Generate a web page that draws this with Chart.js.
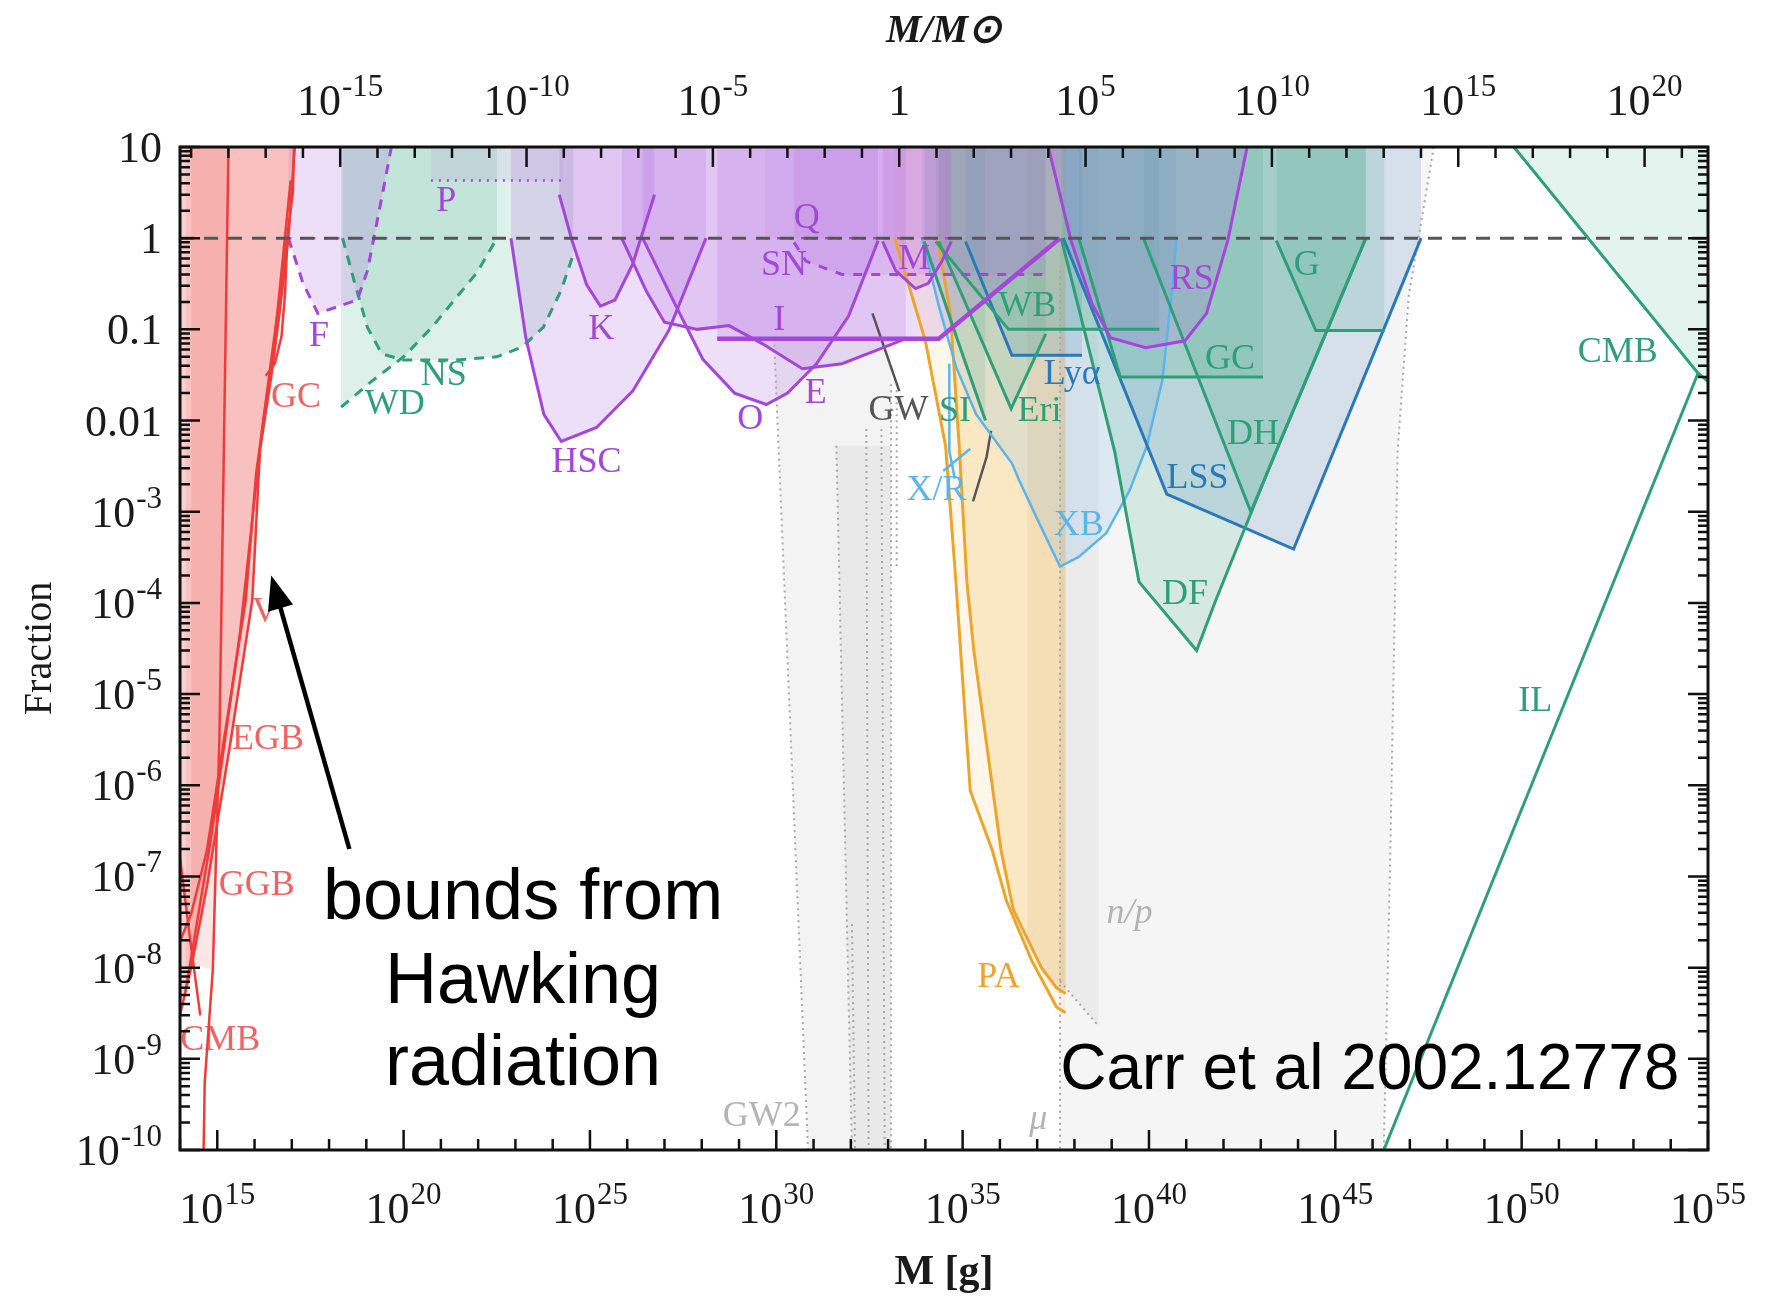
<!DOCTYPE html>
<html>
<head>
<meta charset="utf-8">
<script src="https://cdn.jsdelivr.net/npm/chart.js@4.4.1/dist/chart.umd.min.js"></script>
<style>
  html, body { margin: 0; padding: 0; background: #fff; }
  #wrap { width: 1767px; height: 1298px; }
</style>
</head>
<body>
<div id="wrap"><canvas id="pbhChart" width="1767" height="1298"></canvas></div>
<script>
const MSUN_G = 1.989e33;
const X_MIN = 1e14, X_MAX = 1e55, Y_MIN = 1e-10, Y_MAX = 10;

// axis ticks, labels as [base, exponent]
const massTicks = [1e15, 1e20, 1e25, 1e30, 1e35, 1e40, 1e45, 1e50, 1e55];
const massTickLabels = [['10', '15'], ['10', '20'], ['10', '25'], ['10', '30'], ['10', '35'], ['10', '40'], ['10', '45'], ['10', '50'], ['10', '55']];
const solarTicks = [1e-15, 1e-10, 1e-5, 1, 1e5, 1e10, 1e15, 1e20];
const solarTickLabels = [['10', '-15'], ['10', '-10'], ['10', '-5'], ['1', ''], ['10', '5'], ['10', '10'], ['10', '15'], ['10', '20']];
const fracTicks = [1e-10, 1e-9, 1e-8, 1e-7, 1e-6, 1e-5, 1e-4, 1e-3, 0.01, 0.1, 1, 10];
const fracTickLabels = [['10', '-10'], ['10', '-9'], ['10', '-8'], ['10', '-7'], ['10', '-6'], ['10', '-5'], ['10', '-4'], ['10', '-3'], ['0.01', ''], ['0.1', ''], ['1', ''], ['10', '']];

// constraint curves, [M in g, fraction]
const unity = [[1e14, 1], [1e55, 1]];

// evaporation
const hawkingEGB = [[1.2e17, 10], [8.1e16, 1], [4.6e16, 0.14], [2.8e16, 0.030], [1.4e16, 4.7e-3], [8.7e15, 1.07e-4], [2.3e15, 3.1e-6], [7.6e14, 1.95e-7], [5.3e14, 7.9e-8], [2.1e14, 1.1e-8], [1e14, 3.0e-9]];
const hawkingV = [[9.3e16, 4.3], [3.5e16, 0.079], [1.1e16, 2.6e-3], [5.8e15, 1.07e-4], [1.5e15, 3.1e-6], [5.3e14, 1.95e-7], [2.0e14, 3.9e-8], [1e14, 1.95e-8]];
const hawkingGGB = [[1.4e14, 5.4e-9], [7.1e14, 2.9e-7], [4.1e15, 4.8e-5], [1.6e16, 8.1e-3], [5.3e16, 0.33], [1.07e17, 3.2], [1.15e17, 10]];
const hawkingCMB = [[1e14, 1.6e-7], [2.0e14, 1.66e-8], [3.5e14, 3.0e-9]];
const hawkingNow = [[2.0e15, 10], [1.5e15, 4.6e-3], [1.15e15, 3.7e-6], [7.6e14, 9.5e-9], [4.6e14, 5.5e-10], [4.3e14, 1e-10]];
const hawkingGC = [[7.6e16, 1], [6.6e16, 0.25], [5.3e16, 0.084], [3.5e16, 0.042], [2.0e16, 0.031]];

// lensing
const femto = [[8.1e16, 1], [2.0e17, 0.32], [5.0e17, 0.15], [1.9e18, 0.18], [5.7e18, 0.21], [1.07e19, 0.44], [2.6e19, 2.8], [4.7e19, 10]];
const femtoUnity = [[8.1e16, 1], [2.0e20, 1]];
const pulsar = [[5.4e20, 4.3], [1.9e24, 4.3]];
const hsc = [[7.6e22, 1], [1.9e23, 0.081], [5.8e23, 0.0117], [1.7e24, 5.9e-3], [1.5e25, 8.4e-3], [1.4e26, 0.021], [1.3e27, 0.097], [1.3e28, 1]];
const kepler = [[1.5e24, 3.0], [3.3e24, 0.94], [8.1e24, 0.31], [1.9e25, 0.18], [4.7e25, 0.21], [1.4e26, 0.52], [5.4e26, 3.0]];
const eros = [[7.1e25, 1], [3.3e26, 0.26], [1.0e27, 0.12], [7.6e27, 0.10], [5.4e28, 0.11], [4.4e29, 0.069], [5.0e30, 0.037], [5.8e31, 0.042], [5.4e32, 0.060], [3.0e33, 0.079]];
const ogle = [[2.6e26, 1], [1.9e27, 0.19], [1.07e28, 0.047], [7.6e28, 0.020], [5.4e29, 0.015], [2.0e30, 0.020], [1.2e31, 0.042], [8.7e31, 0.14], [5.4e32, 0.94]];
const icarus = [[2.6e28, 0.079], [2.3e34, 0.079], [4.1e37, 1]];
const supernova = [[3.0e30, 0.9], [6.2e30, 0.56], [5.8e31, 0.40], [1.7e37, 0.40]];
const macho = [[7.1e32, 0.92], [1.6e33, 0.44], [5.4e33, 0.28], [1.2e34, 0.32], [2.8e34, 0.56], [5.0e34, 0.92]];
const quasar = [[5e29, 1], [5e34, 1]];
const radio = [[2.0e37, 10], [8.1e37, 0.94], [3.0e38, 0.19], [9.3e38, 0.081], [8.1e39, 0.063], [9.3e40, 0.075], [3.5e41, 0.15], [1.3e42, 0.94], [4.3e42, 10]];

// dynamical / accretion
const whiteDwarf = [[2.1e18, 0.014], [1.4e19, 0.027], [1.0e20, 0.050], [5.7e20, 0.105], [2.3e21, 0.21], [9.3e21, 0.42], [3.2e22, 1]];
const neutronStar = [[2.3e18, 1], [4.7e18, 0.34], [1.07e19, 0.105], [2.6e19, 0.054], [1.0e20, 0.046], [2.2e21, 0.046], [3.2e22, 0.050], [1.5e23, 0.064], [5.6e23, 0.105], [1.7e24, 0.27], [3.6e24, 0.67]];
const starClusters = [[9.3e33, 0.92], [7.1e34, 0.079], [4.1e35, 0.010]];
const wideBinaries = [[1.9e34, 0.92], [1.7e36, 0.10], [1.9e40, 0.10]];
const eridanus = [[2.3e34, 0.92], [2.0e36, 0.0135], [1.7e37, 0.089]];
const dynFriction = [[4.4e37, 1], [1.2e39, 4.6e-3], [5.4e39, 1.7e-4], [1.9e41, 3.0e-5], [6.2e41, 1.07e-4], [2.6e43, 4.7e-3], [6.6e45, 1]];
const diskHeating = [[7.1e39, 1], [5.4e42, 1.0e-3], [6.6e45, 1]];
const galacticCenter = [[1.3e38, 1], [1.7e39, 0.030], [1.15e43, 0.030]];
const galaxies = [[2.6e43, 0.94], [3.0e44, 0.097], [2.1e46, 0.097]];
const cmbDipole = [[6.2e49, 10], [5.4e54, 0.033], [1e55, 0.027]];
const incredulity = [[5.4e54, 0.033], [2.0e46, 1e-10]];
const lymanAlpha = [[1.2e35, 0.92], [2.1e36, 0.052], [1.6e38, 0.052]];
const largeScale = [[5.0e37, 1], [3.0e40, 1.56e-3], [7.6e43, 3.9e-4], [2.0e47, 1]];
const xrayBinaries = [[8.1e33, 1], [2.3e34, 0.18], [6.6e34, 0.039], [2.3e35, 0.0117], [2.1e36, 3.4e-3], [3.3e36, 2.2e-3], [1.15e37, 7.4e-4], [4.1e37, 2.5e-4], [1.3e38, 3.2e-4], [7.1e38, 5.8e-4], [3.0e39, 1.7e-3], [8.7e39, 5.2e-3], [2.3e40, 0.028], [4.4e40, 0.34], [5.4e40, 1]];
const xrayRadioA = [[4.4e34, 0.042], [4.4e34, 4.6e-3], [6.2e34, 2.3e-3]];
const xrayRadioB = [[3.0e34, 2.8e-3], [1.6e35, 4.9e-3]];
const planckA = [[1.5e33, 1], [1.0e34, 0.075], [3.5e34, 5.2e-3], [6.6e34, 1.7e-4], [1.6e35, 8.7e-7], [6.2e35, 1.95e-7], [1.5e36, 5.4e-8], [7.1e36, 1.2e-8], [3.3e37, 3.7e-9], [5.8e37, 3.2e-9]];
const planckB = [[2.1e34, 1], [4.7e34, 0.15], [8.1e34, 5.2e-3], [1.3e35, 1.7e-4], [2.0e35, 3.0e-5], [1.07e36, 1.95e-7], [2.3e36, 4.3e-8], [1.3e37, 1.0e-8], [3.3e37, 6.0e-9], [5.8e37, 5.2e-9]];
const planckBand = [[5.4e36, 10], [5.8e37, 10], [5.8e37, 5.2e-9], [3.3e37, 6.0e-9], [1.3e37, 1.0e-8], [5.4e36, 1.86e-8]];

// gravitational waves and early-universe bounds
const gwLine = [[3.8e32, 0.15], [2.0e33, 0.021]];
const gwLineB = [[5.8e35, 7.7e-3], [4.4e35, 4.0e-3], [1.9e35, 1.3e-3]];
const gw2Band = [[8.7e29, 0.079], [7.1e30, 1e-10], [1.2e33, 1e-10], [1.2e33, 0.079]];
const gw2Inner = [[4.1e31, 5.3e-3], [1.07e32, 1e-10], [1.2e33, 1e-10], [1.2e33, 5.3e-3]];
const gwDotted = [
  [[8.7e29, 0.079], [7.1e30, 1e-10]],
  [[4.1e31, 5.3e-3], [1.07e32, 1e-10]],
  [[2.6e32, 8.1e-3], [3.0e32, 1e-10]],
  [[6.6e32, 8.1e-3], [8.1e32, 1e-10]],
  [[1.2e33, 0.025], [1.2e33, 1e-10]],
  [[1.7e33, 0.025], [1.7e33, 2.3e-4]],
  [[1.07e32, 3e-8], [1.3e32, 1e-10]]
];
const bbnBand = [[4.1e37, 10], [4.4e47, 10], [9.3e46, 0.23], [4.7e46, 4.6e-3], [3.0e46, 1.95e-7], [2.0e46, 1e-10], [4.1e37, 1e-10]];
const bbnEdge = [[4.4e47, 10], [9.3e46, 0.23], [4.7e46, 4.6e-3], [3.0e46, 1.95e-7], [2.0e46, 1e-10]];
const muLine = [[4.1e37, 0.44], [4.1e37, 1e-10]];
const npBand = [[4.1e37, 10], [4.4e38, 10], [4.4e38, 2.3e-9], [4.1e37, 7.1e-9]];
const npLine = [[4.1e37, 7.1e-9], [4.4e38, 2.3e-9]];

const RED = '#ec3d3a', PURPLE = '#a447d8', GREEN = '#2f9f78', BLUE = '#2b79b8';
const SKY = '#5cb5e8', ORANGE = '#eca52b', DARK = '#555555', LIGHT_GRAY = '#b4b4b4';
const RED_TEXT = 'rgba(236,60,60,0.8)';
const PURPLE_FILL = 'rgba(168,96,222,0.2)';
const GREEN_FILL = 'rgba(60,168,128,0.17)';
const BLUE_FILL = 'rgba(50,120,185,0.16)';

const curveLabels = [
  { text: 'P', at: [1.4e21, 2.55], color: PURPLE },
  { text: 'F', at: [5.4e17, 0.084], color: PURPLE },
  { text: 'GC', at: [1.3e17, 0.018], color: RED_TEXT },
  { text: 'WD', at: [5.8e19, 0.015], color: GREEN },
  { text: 'NS', at: [1.2e21, 0.031], color: GREEN },
  { text: 'K', at: [2.0e25, 0.10], color: PURPLE },
  { text: 'HSC', at: [8.1e24, 3.5e-3], color: PURPLE },
  { text: 'Q', at: [6.6e30, 1.66], color: PURPLE },
  { text: 'SN', at: [1.6e30, 0.50], color: PURPLE },
  { text: 'I', at: [1.2e30, 0.125], color: PURPLE },
  { text: 'M', at: [5.0e33, 0.58], color: PURPLE },
  { text: 'O', at: [2.0e29, 0.0102], color: PURPLE },
  { text: 'E', at: [1.15e31, 0.020], color: PURPLE },
  { text: 'GW', at: [1.9e33, 0.0129], color: DARK },
  { text: 'SI', at: [6.2e34, 0.0125], color: GREEN },
  { text: 'WB', at: [5.4e36, 0.18], color: GREEN },
  { text: 'Lyα', at: [8.7e37, 0.032], color: BLUE },
  { text: 'Eri', at: [1.15e37, 0.0125], color: GREEN },
  { text: 'RS', at: [1.4e41, 0.35], color: PURPLE },
  { text: 'GC', at: [1.5e42, 0.047], color: GREEN },
  { text: 'G', at: [1.7e44, 0.50], color: GREEN },
  { text: 'DH', at: [6.2e42, 7.0e-3], color: GREEN },
  { text: 'LSS', at: [2.0e41, 2.3e-3], color: BLUE },
  { text: 'XB', at: [1.3e38, 7.0e-4], color: SKY },
  { text: 'X/R', at: [2.0e34, 1.7e-3], color: SKY },
  { text: 'DF', at: [9.3e40, 1.24e-4], color: GREEN },
  { text: 'CMB', at: [3.8e52, 0.056], color: GREEN },
  { text: 'IL', at: [2.3e50, 8.3e-6], color: GREEN },
  { text: 'PA', at: [9.3e35, 7.8e-9], color: ORANGE },
  { text: 'n/p', at: [3.0e39, 3.9e-8], color: LIGHT_GRAY, italic: true },
  { text: 'μ', at: [1.07e37, 2.15e-10], color: LIGHT_GRAY, italic: true },
  { text: 'GW2', at: [4.1e29, 2.3e-10], color: LIGHT_GRAY },
  { text: 'V', at: [1.9e16, 7.9e-5], color: RED_TEXT },
  { text: 'EGB', at: [2.3e16, 3.2e-6], color: RED_TEXT },
  { text: 'GGB', at: [1.15e16, 8.0e-8], color: RED_TEXT },
  { text: 'CMB', at: [1.2e15, 1.6e-9], color: RED_TEXT }
];

const hawkingNote = { lines: ['bounds from', 'Hawking', 'radiation'], x: 1.6e23, y: [5.7e-8, 6.8e-9, 8.5e-10] };
const sourceNote = { text: 'Carr et al 2002.12778', x: 1.7e54, y: 7.3e-10 };
const arrowFrom = [3.5e18, 2.0e-7], arrowTo = [2.8e16, 2.0e-4];

function pts(arr) {
  return arr.map(([x, y]) => ({ x, y }));
}

function curve(data, color, opts = {}) {
  return {
    data: pts(data),
    borderColor: color,
    borderWidth: opts.width || 3,
    borderDash: opts.dash || [],
    backgroundColor: opts.fill || 'rgba(0,0,0,0)',
    fill: opts.fill ? 'end' : false,
    pointRadius: 0,
    tension: 0
  };
}

function area(data, color) {
  return {
    data: pts(data),
    borderColor: 'rgba(0,0,0,0)',
    borderWidth: 1,
    backgroundColor: color,
    fill: 'shape',
    pointRadius: 0,
    tension: 0
  };
}

const dotted = { width: 2, dash: [2, 4] };
const datasets = [
  curve(unity, DARK, { width: 3, dash: [14, 10] }),

  curve(hawkingEGB, RED, { width: 2.5 }),
  curve(hawkingV, RED, { width: 2.5 }),
  curve(hawkingGGB, RED, { width: 2.5, fill: 'rgba(236,70,66,0.12)' }),
  curve(hawkingCMB, RED, { width: 2.5 }),
  curve(hawkingNow, RED, { width: 2.5 }),
  curve(hawkingGC, RED, { width: 2.5 }),

  curve(femto, PURPLE, { dash: [10, 8], fill: PURPLE_FILL }),
  curve(femtoUnity, PURPLE, { width: 2.5, dash: [3, 9] }),
  curve(pulsar, PURPLE, { width: 2.5, dash: [2, 6], fill: 'rgba(168,96,222,0.1)' }),
  curve(hsc, PURPLE, { fill: PURPLE_FILL }),
  curve(kepler, PURPLE, { fill: PURPLE_FILL }),
  curve(eros, PURPLE, { fill: PURPLE_FILL }),
  curve(ogle, PURPLE, { fill: PURPLE_FILL }),
  curve(icarus, PURPLE, { width: 4.5, fill: PURPLE_FILL }),
  curve(supernova, PURPLE, { dash: [9, 9], fill: 'rgba(168,96,222,0.14)' }),
  curve(macho, PURPLE, { fill: 'rgba(215,100,200,0.22)' }),
  curve(quasar, PURPLE, { width: 2.5, dash: [3, 9], fill: 'rgba(168,96,222,0.1)' }),
  curve(radio, PURPLE, { fill: PURPLE_FILL }),

  curve(whiteDwarf, GREEN, { dash: [10, 8], fill: GREEN_FILL }),
  curve(neutronStar, GREEN, { dash: [10, 8], fill: GREEN_FILL }),
  curve(starClusters, GREEN, { fill: GREEN_FILL }),
  curve(wideBinaries, GREEN, { fill: GREEN_FILL }),
  curve(eridanus, GREEN, { fill: GREEN_FILL }),
  curve(dynFriction, GREEN, { fill: GREEN_FILL }),
  curve(diskHeating, GREEN, { fill: GREEN_FILL }),
  curve(galacticCenter, GREEN, { fill: GREEN_FILL }),
  curve(galaxies, GREEN, { fill: GREEN_FILL }),
  curve(cmbDipole, GREEN, { fill: 'rgba(60,168,128,0.14)' }),
  curve(incredulity, GREEN),

  curve(lymanAlpha, BLUE, { fill: BLUE_FILL }),
  curve(largeScale, BLUE, { fill: BLUE_FILL }),
  curve(xrayBinaries, SKY, { width: 2.5, fill: 'rgba(100,175,230,0.16)' }),
  curve(xrayRadioA, SKY, { width: 2.5 }),
  curve(xrayRadioB, SKY, { width: 2.5 }),

  curve(planckA, ORANGE, { fill: 'rgba(240,180,70,0.12)' }),
  curve(planckB, ORANGE, { fill: 'rgba(240,180,70,0.22)' }),

  curve(gwLine, DARK, { width: 2.5 }),
  curve(gwLineB, DARK, { width: 2.5 }),
  ...gwDotted.map(seg => curve(seg, '#a8a8a8', dotted)),
  curve(bbnEdge, '#a8a8a8', dotted),
  curve(muLine, '#a8a8a8', dotted),
  curve(npLine, '#a8a8a8', dotted),

  area([[1e14, 10], ...hawkingEGB], 'rgba(236,70,66,0.25)'),
  area([[2.0e14, 10], [2.0e15, 10], [1.5e15, 4.6e-3], [1.15e15, 3.7e-6], [7.6e14, 9.5e-9], [2.0e14, 1.1e-8]], 'rgba(230,80,80,0.14)'),
  area(planckBand, 'rgba(190,150,90,0.14)'),
  area(gw2Band, 'rgba(190,190,190,0.18)'),
  area(gw2Inner, 'rgba(180,180,180,0.16)'),
  area(npBand, 'rgba(170,170,170,0.14)'),
  area(bbnBand, 'rgba(170,170,170,0.12)')
];

const SERIF = '"Liberation Serif", "Times New Roman", serif';
const SANS = '"Liberation Sans", Arial, sans-serif';
const BASE_FONT = '44px ' + SERIF;
const EXP_FONT = '31px ' + SERIF;

// "10" with a raised exponent; y is the baseline of the base text
function drawPower(ctx, label, x, y, align) {
  const [base, exp] = label;
  ctx.font = BASE_FONT;
  const wb = ctx.measureText(base).width;
  ctx.font = EXP_FONT;
  const we = exp ? ctx.measureText(exp).width : 0;
  const total = wb + we + (exp ? 1 : 0);
  const left = align === 'center' ? x - total / 2 : align === 'right' ? x - total : x;
  ctx.textAlign = 'left';
  ctx.textBaseline = 'alphabetic';
  ctx.font = BASE_FONT;
  ctx.fillText(base, left, y);
  if (exp) {
    ctx.font = EXP_FONT;
    ctx.fillText(exp, left + wb + 1, y - 19);
  }
}

const decorations = {
  id: 'decorations',
  afterDatasetsDraw(chart) {
    const { ctx, scales } = chart;
    const px = v => scales.x.getPixelForValue(v);
    const py = v => scales.y.getPixelForValue(v);
    ctx.save();
    ctx.textAlign = 'center';
    ctx.textBaseline = 'middle';
    curveLabels.forEach(l => {
      ctx.font = (l.italic ? 'italic ' : '') + '36px ' + SERIF;
      ctx.fillStyle = l.color;
      ctx.fillText(l.text, px(l.at[0]), py(l.at[1]));
    });

    ctx.fillStyle = '#000';
    ctx.font = '72px ' + SANS;
    hawkingNote.lines.forEach((t, i) => ctx.fillText(t, px(hawkingNote.x), py(hawkingNote.y[i])));
    ctx.font = '64px ' + SANS;
    ctx.textAlign = 'right';
    ctx.fillText(sourceNote.text, px(sourceNote.x), py(sourceNote.y));

    // arrow towards the evaporation bounds
    const sx = px(arrowFrom[0]), sy = py(arrowFrom[1]);
    const tx = px(arrowTo[0]), ty = py(arrowTo[1]);
    const ang = Math.atan2(ty - sy, tx - sx);
    const headLen = 34, headW = 13;
    ctx.strokeStyle = '#000';
    ctx.lineWidth = 4.5;
    ctx.beginPath();
    ctx.moveTo(sx, sy);
    ctx.lineTo(tx - Math.cos(ang) * headLen * 0.8, ty - Math.sin(ang) * headLen * 0.8);
    ctx.stroke();
    ctx.beginPath();
    ctx.moveTo(tx, ty);
    ctx.lineTo(tx - headLen * Math.cos(ang) + headW * Math.sin(ang), ty - headLen * Math.sin(ang) - headW * Math.cos(ang));
    ctx.lineTo(tx - headLen * Math.cos(ang) - headW * Math.sin(ang), ty - headLen * Math.sin(ang) + headW * Math.cos(ang));
    ctx.closePath();
    ctx.fill();
    ctx.restore();
  },
  afterDraw(chart) {
    const { ctx, chartArea: a, scales } = chart;
    ctx.save();

    // tick labels with superscript exponents
    ctx.fillStyle = '#1a1a1a';
    massTicks.forEach((v, i) => drawPower(ctx, massTickLabels[i], scales.x.getPixelForValue(v), a.bottom + 73, 'center'));
    solarTicks.forEach((v, i) => drawPower(ctx, solarTickLabels[i], scales.x2.getPixelForValue(v), a.top - 32, 'center'));
    fracTicks.forEach((v, i) => drawPower(ctx, fracTickLabels[i], a.left - 18, scales.y.getPixelForValue(v) + 15, 'right'));

    // inward ticks on all four sides plus the frame
    ctx.strokeStyle = '#111';
    ctx.lineWidth = 2.5;
    ctx.beginPath();
    for (let e = 14; e <= 55; e++) {
      const x = scales.x.getPixelForValue(Math.pow(10, e));
      const len = e % 5 === 0 ? 20 : 11;
      ctx.moveTo(x, a.bottom); ctx.lineTo(x, a.bottom - len);
    }
    for (let e = -20; e <= 22; e++) {
      const x = scales.x2.getPixelForValue(Math.pow(10, e));
      if (x < a.left || x > a.right) continue;
      const len = e % 5 === 0 ? 20 : 11;
      ctx.moveTo(x, a.top); ctx.lineTo(x, a.top + len);
    }
    for (let e = -10; e <= 1; e++) {
      for (let m = 1; m <= 9; m++) {
        const v = m * Math.pow(10, e);
        if (v > Y_MAX) break;
        const y = scales.y.getPixelForValue(v);
        const len = m === 1 ? 20 : 10;
        ctx.moveTo(a.left, y); ctx.lineTo(a.left + len, y);
        ctx.moveTo(a.right, y); ctx.lineTo(a.right - len, y);
      }
    }
    ctx.stroke();
    ctx.lineWidth = 3;
    ctx.strokeRect(a.left, a.top, a.right - a.left, a.bottom - a.top);
    ctx.restore();
  }
};

new Chart(document.getElementById('pbhChart'), {
  type: 'line',
  data: { datasets },
  options: {
    responsive: false,
    devicePixelRatio: 1,
    animation: false,
    events: [],
    layout: { padding: { right: 59 } },
    plugins: {
      legend: { display: false },
      tooltip: { enabled: false },
      filler: { drawTime: 'beforeDatasetsDraw', propagate: false }
    },
    scales: {
      x: {
        type: 'logarithmic',
        position: 'bottom',
        min: X_MIN,
        max: X_MAX,
        afterBuildTicks: s => { s.ticks = massTicks.map(v => ({ value: v })); },
        afterFit: s => { s.height = 148; },
        grid: { display: false, drawTicks: false },
        border: { display: false },
        ticks: { display: false },
        title: { display: true, text: 'M [g]', font: { family: SERIF, size: 42, weight: 'bold' }, color: '#1a1a1a', padding: 0 }
      },
      x2: {
        type: 'logarithmic',
        position: 'top',
        min: X_MIN / MSUN_G,
        max: X_MAX / MSUN_G,
        afterBuildTicks: s => { s.ticks = solarTicks.map(v => ({ value: v })); },
        afterFit: s => { s.height = 147; },
        grid: { display: false, drawTicks: false },
        border: { display: false },
        ticks: { display: false },
        title: { display: true, text: 'M/M⊙', font: { family: SERIF, size: 40, style: 'italic', weight: 'bold' }, color: '#1a1a1a', padding: { top: 8, bottom: 0 } }
      },
      y: {
        type: 'logarithmic',
        position: 'left',
        min: Y_MIN,
        max: Y_MAX,
        afterBuildTicks: s => { s.ticks = fracTicks.map(v => ({ value: v })); },
        afterFit: s => { s.width = 180; },
        grid: { display: false, drawTicks: false },
        border: { display: false },
        ticks: { display: false },
        title: { display: true, text: 'Fraction', font: { family: SERIF, size: 40 }, color: '#1a1a1a', padding: { top: 16, bottom: 0 } }
      }
    }
  },
  plugins: [decorations]
});
</script>
</body>
</html>
